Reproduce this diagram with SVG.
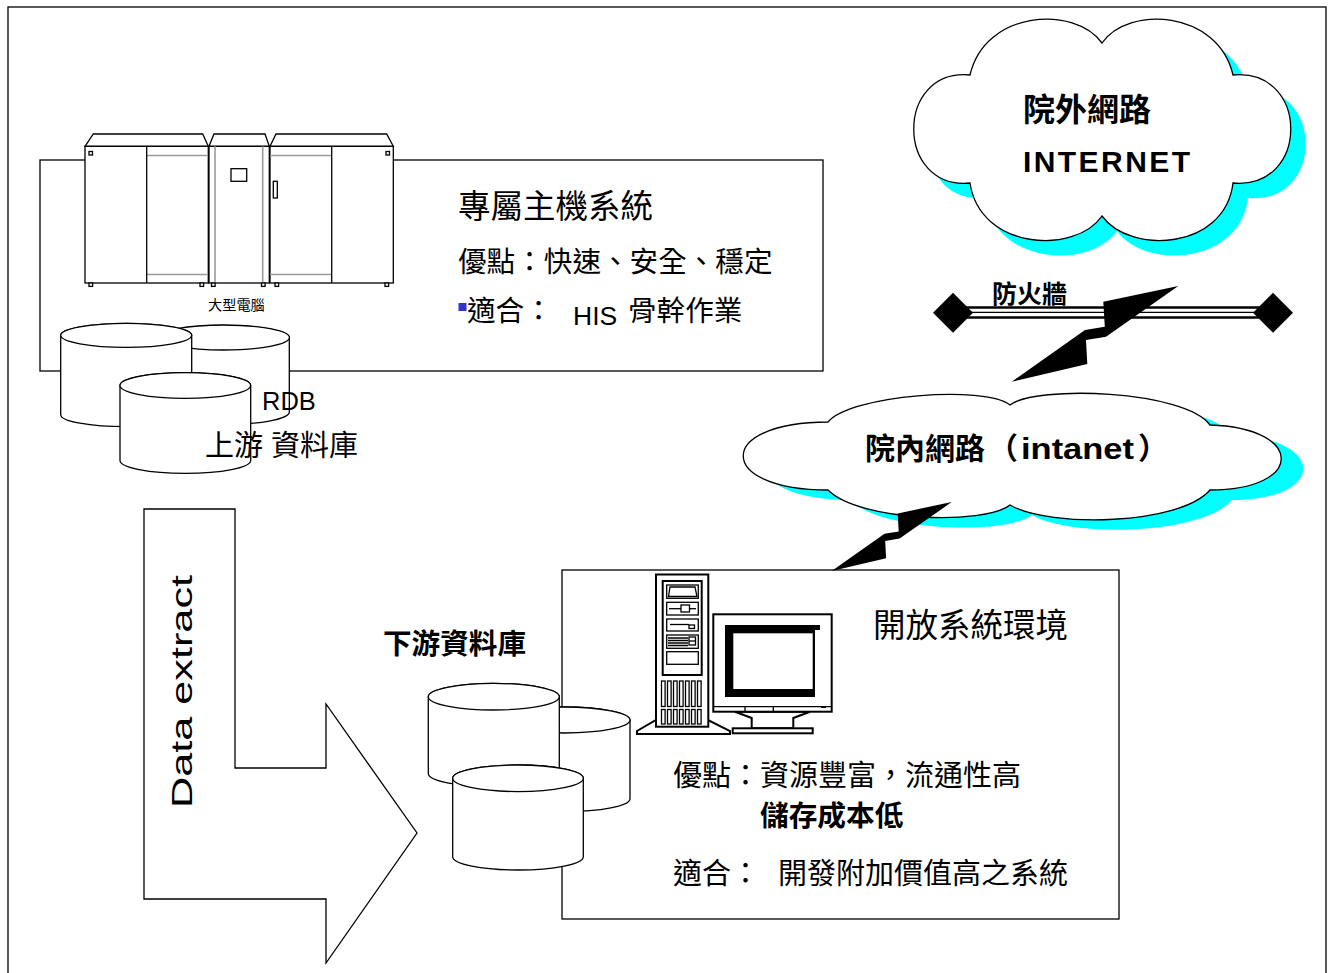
<svg xmlns="http://www.w3.org/2000/svg" width="1330" height="973" viewBox="0 0 1330 973">
<style>
  .ln{fill:none;stroke:#000;stroke-width:1.3}
  .wb{fill:#fff;stroke:#000;stroke-width:1.3}
  .wk{fill:#fff;stroke:#000;stroke-width:2}
  .gr{fill:none;stroke:#9a9a9a;stroke-width:1.6}
  .blk{fill:#000}
  .cy{fill:#00ffff}
  .t{font-family:"Liberation Sans","Noto Sans CJK TC",sans-serif;fill:#000}
  .b{font-weight:bold}
</style>
<defs>
  <path id="cloudTop" d="M970,75 C985,10 1075,5 1102,43 C1128,5 1218,10 1233,75 C1310,68 1310,190 1233,183 C1225,250 1130,255 1102,216 C1075,255 980,250 970,183 C895,190 895,68 970,75 Z"/>
  <path id="cloudIn" d="M828,422 C850,395 985,385 1010,405 C1035,385 1185,390 1210,425 C1305,428 1305,490 1210,490 C1180,525 1050,528 1010,505 C985,525 860,522 828,490 C715,490 715,422 828,422 Z"/>
</defs>

<rect width="1330" height="973" fill="#fff"/>
<!-- page frame -->
<rect id="frame" class="ln" x="8" y="7" width="1318" height="1000" stroke-width="1.5"/>

<!-- host system panel -->
<g id="host-box">
  <rect class="ln" x="40" y="160" width="783" height="211"/>
  <text class="t" x="458" y="218" font-size="32.5">專屬主機系統</text>
  <text class="t" x="458" y="272" font-size="28.6">優點：快速、安全、穩定</text>
  <rect x="458.5" y="303" width="8" height="8" fill="#3333cc"/>
  <text class="t" x="467" y="321" font-size="28.6">適合： <tspan x="573" y="325" font-size="26.5">HIS</tspan> <tspan x="628" y="321">骨幹作業</tspan></text>
</g>

<!-- mainframe cabinets -->
<g id="mainframe">
  <polygon class="wb" points="85,146.3 93.3,134 202.7,134 208.3,146.3"/>
  <rect class="wb" x="85" y="146.3" width="123.3" height="136.7"/>
  <line class="gr" x1="146.7" y1="155.5" x2="208.3" y2="155.5"/>
  <line class="gr" x1="146.7" y1="274.5" x2="208.3" y2="274.5"/>
  <line class="ln" stroke-width="2.2" x1="146.7" y1="146.3" x2="146.7" y2="283"/>
  <rect class="wb" stroke-width="1" x="89" y="151.5" width="3.5" height="3.5"/>
  <rect class="wb" stroke-width="1" x="89" y="283" width="3.6" height="3.4"/>
  <rect class="wb" stroke-width="1" x="200" y="283" width="3.6" height="3.4"/>

  <polygon class="wb" points="209,146.3 214,134 265,134 269.3,146.3"/>
  <rect class="wb" x="209" y="146.3" width="60.3" height="136.7"/>
  <line class="gr" x1="215" y1="146.3" x2="215" y2="283"/>
  <line class="gr" x1="262.7" y1="146.3" x2="262.7" y2="283"/>
  <rect class="wb" x="231" y="168.7" width="15.7" height="12.6"/>
  <rect class="wb" stroke-width="1" x="211.5" y="283" width="3.6" height="3.4"/>
  <rect class="wb" stroke-width="1" x="261.5" y="283" width="3.6" height="3.4"/>

  <polygon class="wb" points="270,146.3 276,134 386.7,134 393.3,146.3"/>
  <rect class="wb" x="270" y="146.3" width="123.3" height="136.7"/>
  <line class="gr" x1="270" y1="155.5" x2="331.7" y2="155.5"/>
  <line class="gr" x1="270" y1="274.5" x2="331.7" y2="274.5"/>
  <line class="ln" stroke-width="2.2" x1="331.7" y1="146.3" x2="331.7" y2="283"/>
  <rect class="wb" x="273.3" y="181.3" width="4" height="16.7"/>
  <rect class="wb" stroke-width="1" x="386" y="151.5" width="3.5" height="3.5"/>
  <rect class="wb" stroke-width="1" x="275" y="283" width="3.6" height="3.4"/>
  <rect class="wb" stroke-width="1" x="385" y="283" width="3.6" height="3.4"/>
  <text class="t" x="208" y="310" font-size="14.2">大型電腦</text>
</g>

<!-- upstream database -->
<g id="rdb-upstream">
  <path class="wb" d="M158,337.5 V412.5 A65.7,12.5 0 0 0 289.3,412.5 V337.5 A65.7,12.5 0 0 0 158,337.5 Z"/>
  <ellipse class="wb" cx="223.7" cy="337.5" rx="65.7" ry="12.5"/>
  <path class="wb" d="M60.7,335.3 V414.7 A65.5,12 0 0 0 191.7,414.7 V335.3 A65.5,12 0 0 0 60.7,335.3 Z"/>
  <ellipse class="wb" cx="126.2" cy="335.3" rx="65.5" ry="12"/>
  <path class="wb" d="M120,385.5 V460.5 A65.3,12.8 0 0 0 250.7,460.5 V385.5 A65.3,12.8 0 0 0 120,385.5 Z"/>
  <ellipse class="wb" cx="185.3" cy="385.5" rx="65.3" ry="12.8"/>
  <text class="t" x="262" y="410" font-size="25.5">RDB</text>
  <text class="t" x="205" y="456" font-size="29">上游 資料庫</text>
</g>

<!-- extraction arrow -->
<g id="extract-arrow">
  <polygon class="wb" points="144,509 235,509 235,768 326,768 326,704 417,833 326,963 326,899 144,899"/>
  <text class="t" font-size="30" transform="translate(191.5,808) rotate(-90)" textLength="233" lengthAdjust="spacingAndGlyphs">Data extract</text>
</g>

<!-- open systems panel -->
<g id="open-box">
  <rect class="ln" x="562" y="570" width="557" height="349"/>
  <text class="t" x="873" y="637" font-size="32.5">開放系統環境</text>
  <text class="t" x="673" y="786" font-size="29">優點：資源豐富，流通性高</text>
  <text class="t b" x="760" y="826" font-size="28.7">儲存成本低</text>
  <text class="t" x="673" y="884" font-size="29">適合： <tspan x="778">開發附加價值高之系統</tspan></text>
</g>

<!-- downstream database -->
<g id="rdb-downstream">
  <text class="t b" x="383" y="654" font-size="28.6">下游資料庫</text>
  <path class="wb" d="M499,720 V798.7 A65.5,13 0 0 0 630,798.7 V720 A65.5,13 0 0 0 499,720 Z"/>
  <ellipse class="wb" cx="564.5" cy="720" rx="65.5" ry="13"/>
  <path class="wb" d="M428.3,696.7 V773.4 A65.5,13.3 0 0 0 559.3,773.4 V696.7 A65.5,13.3 0 0 0 428.3,696.7 Z"/>
  <ellipse class="wb" cx="493.8" cy="696.7" rx="65.5" ry="13.3"/>
  <path class="wb" d="M452.7,778.3 V856.7 A65.3,13.3 0 0 0 583.3,856.7 V778.3 A65.3,13.3 0 0 0 452.7,778.3 Z"/>
  <ellipse class="wb" cx="518" cy="778.3" rx="65.3" ry="13.3"/>
</g>

<!-- workstation -->
<g id="workstation">
  <polygon class="wk" points="637,734 637,731 656,720 708,720 730,731 730,734"/>
  <rect class="wk" x="656" y="574.5" width="52.3" height="152.2"/>
  <rect class="wk" x="662.7" y="581" width="39" height="94"/>
  <rect class="wb" x="666.7" y="585" width="31.6" height="13.3"/>
  <polygon class="wb" points="670,587 695,587 697,596.5 668.5,596.5"/>
  <rect class="wb" x="666.7" y="602.3" width="31.6" height="12.7"/>
  <line class="ln" stroke-width="1.8" x1="669" y1="608.7" x2="696" y2="608.7"/>
  <rect class="wb" x="681" y="605" width="8.5" height="7"/>
  <rect class="wb" x="666.7" y="619" width="31.6" height="12"/>
  <line class="ln" stroke-width="2.5" x1="670" y1="624.5" x2="689" y2="624.5"/>
  <rect class="wb" stroke-width="1" x="689" y="625" width="5.5" height="3.5"/>
  <rect class="wb" x="666.7" y="635" width="31.6" height="13.3"/>
  <path class="ln" stroke-width="1" d="M668,638 H688 M668,640.5 H688 M668,643 H688 M668,645.5 H688"/>
  <rect class="wb" stroke-width="1" x="689" y="637" width="6.5" height="8"/>
  <line class="ln" stroke-width="1" x1="689" y1="641" x2="695.5" y2="641"/>
  <rect class="wb" x="666.7" y="651.7" width="31.6" height="12.6"/>
  <g class="wb" stroke-width="1.2">
    <rect x="661.5" y="681" width="3.6" height="25.5"/><rect x="667.5" y="681" width="3.6" height="25.5"/>
    <rect x="673.5" y="681" width="3.6" height="25.5"/><rect x="679.5" y="681" width="3.6" height="25.5"/>
    <rect x="685.5" y="681" width="3.6" height="25.5"/><rect x="691.5" y="681" width="3.6" height="25.5"/>
    <rect x="697.5" y="681" width="3.6" height="25.5"/>
    <rect x="661.5" y="709.5" width="3.6" height="14.5"/><rect x="667.5" y="709.5" width="3.6" height="14.5"/>
    <rect x="673.5" y="709.5" width="3.6" height="14.5"/><rect x="679.5" y="709.5" width="3.6" height="14.5"/>
    <rect x="685.5" y="709.5" width="3.6" height="14.5"/><rect x="691.5" y="709.5" width="3.6" height="14.5"/>
    <rect x="697.5" y="709.5" width="3.6" height="14.5"/>
  </g>
  <polygon class="wk" points="735,711.7 751.7,718 751.7,728.3 793.3,728.3 793.3,718 810,711.7"/>
  <rect class="wk" x="732.7" y="728.3" width="80" height="5"/>
  <rect class="wk" x="713.3" y="614.3" width="118.4" height="97.4"/>
  <rect class="blk" x="725" y="625" width="90" height="72"/>
  <rect class="blk" x="725" y="625" width="95" height="5"/>
  <rect fill="#fff" x="733.3" y="633.3" width="79.4" height="55.7"/>
  <line class="ln" x1="713.3" y1="706.7" x2="831.7" y2="706.7"/>
  <path class="ln" d="M745,706.7 V711.7 M773.3,706.7 V711.7"/>
  <rect class="blk" x="821" y="706" width="5" height="2"/>
</g>

<!-- external network cloud -->
<g id="cloud-internet">
  <use href="#cloudTop" class="cy" transform="translate(15,15)"/>
  <use href="#cloudTop" class="wb"/>
  <text class="t b" x="1023" y="121" font-size="32">院外網路</text>
  <text class="t b" x="1023" y="172" font-size="30" textLength="167" lengthAdjust="spacing">INTERNET</text>
</g>

<!-- internal network cloud -->
<g id="cloud-intranet">
  <use href="#cloudIn" class="cy" transform="translate(22,10)"/>
  <use href="#cloudIn" class="wb"/>
  <text class="t b" x="865" y="459" font-size="30">院內網路<tspan x="988">（</tspan><tspan x="1021" textLength="113" lengthAdjust="spacingAndGlyphs">intanet</tspan><tspan x="1138">）</tspan></text>
</g>

<!-- firewall -->
<g id="firewall">
  <line stroke="#000" stroke-width="2.5" x1="953" y1="307.5" x2="1273" y2="307.5"/>
  <line stroke="#000" stroke-width="1.2" x1="953" y1="312.3" x2="1273" y2="312.3"/>
  <line stroke="#000" stroke-width="2.5" x1="953" y1="317.5" x2="1273" y2="317.5"/>
  <polygon class="blk" points="933,312.7 953,292.7 973,312.7 953,332.7"/>
  <polygon class="blk" points="1253,312.7 1273,292.7 1293,312.7 1273,332.7"/>
  <text class="t b" x="992" y="302.5" font-size="25">防火牆</text>
</g>

<!-- links: lightning bolts -->
<g id="connectors">
  <polygon class="blk" points="1178.3,286 1103.3,301.7 1104.8,326.7 1085,330 1011.7,381.7 1087.3,364 1086,340 1106,336.7"/>
  <polygon class="blk" points="951.7,502.1 897.7,513.4 898.7,531.4 884.5,533.8 831.7,571 886.1,558.3 885.2,541 899.6,538.6"/>
</g>
</svg>
